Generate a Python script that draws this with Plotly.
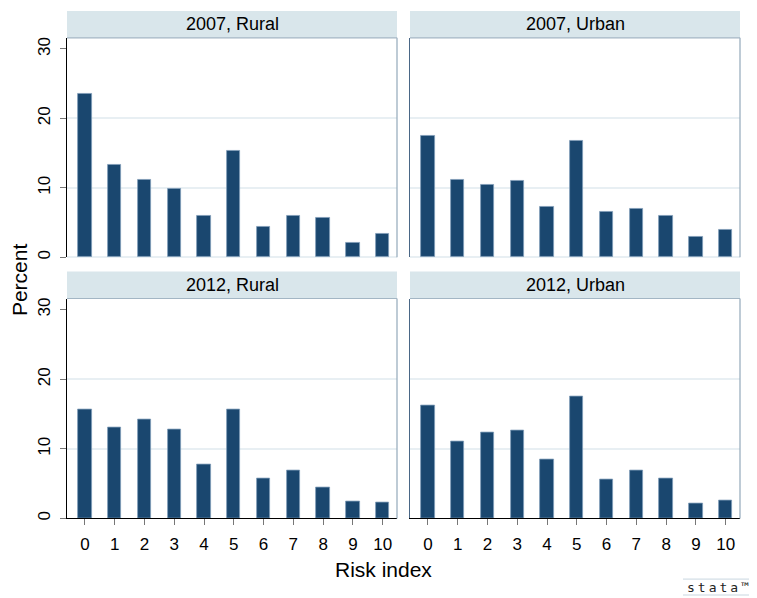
import plotly.graph_objects as go

risk_index = list(range(11))
tick_labels = [str(i) for i in risk_index]
y_ticks = [0, 10, 20, 30]

pct_2007_rural = [23.6, 13.25, 11.2, 9.9, 5.93, 15.3, 4.35, 6.03, 5.74, 2.0, 3.3]
pct_2007_urban = [17.5, 11.2, 10.45, 11.0, 7.3, 16.75, 6.6, 6.9, 5.97, 3.0, 3.9]
pct_2012_rural = [15.7, 13.0, 14.15, 12.8, 7.8, 15.6, 5.73, 6.93, 4.44, 2.39, 2.25]
pct_2012_urban = [16.2, 11.04, 12.28, 12.57, 8.4, 17.58, 5.59, 6.83, 5.69, 2.15, 2.53]

panel_titles = ["2012, Rural", "2012, Urban", "2007, Rural", "2007, Urban"]
panel_data = [pct_2012_rural, pct_2012_urban, pct_2007_rural, pct_2007_urban]

# page body has an 8px margin: figure occupies (8..757, 8..598)
OFF = 8
W, H = 757 - OFF, 598 - OFF
BAR = "#1a476f"
STRIP = "#d9e6eb"
GRID = "#e8eff3"
FONT = "Liberation Sans, Arial, sans-serif"

def px_x(p):
    return (p - OFF) / W

def px_y(p):
    return 1 - (p - OFF) / H

x_domains = [[px_x(67), px_x(397)], [px_x(410), px_x(740)]]
y_domains = [[px_y(520), px_y(299)], [px_y(257.5), px_y(37)]]

fig = go.Figure()
layout = dict(
    width=W, height=H,
    margin=dict(l=0, r=0, t=0, b=0),
    paper_bgcolor="white", plot_bgcolor="white",
    showlegend=False,
    font=dict(family=FONT, size=16, color="black"),
    bargap=0,
)

shapes = []
annotations = []
for i, (title, vals) in enumerate(zip(panel_titles, panel_data)):
    row = i // 2  # 0 bottom, 1 top
    col = i % 2
    n = i + 1
    xa = "x" if n == 1 else f"x{n}"
    ya = "y" if n == 1 else f"y{n}"
    fig.add_trace(go.Bar(
        x=risk_index, y=vals, width=0.45,
        marker=dict(color=BAR, line=dict(color="#7f9cb8", width=0.8)),
        xaxis=xa, yaxis=ya, hoverinfo="x+y",
    ))
    bottom = row == 0
    left = col == 0
    layout[f"xaxis{'' if n == 1 else n}"] = dict(
        domain=x_domains[col], anchor=ya,
        range=[-0.6, 10.48], tickmode="array",
        tickvals=risk_index, ticktext=tick_labels,
        showticklabels=bottom,
        ticks="outside" if bottom else "", ticklen=6, tickwidth=1.2, tickcolor="#777777",
        showline=bottom, linecolor="black", linewidth=1.2,
        showgrid=False, zeroline=False, fixedrange=True,
        tickfont=dict(size=17, family=FONT),
        ticklabelstandoff=4,
    )
    layout[f"yaxis{'' if n == 1 else n}"] = dict(
        domain=y_domains[row], anchor=xa,
        range=[0, 31.6], tickmode="array", tickvals=y_ticks,
        ticktext=[str(v) for v in y_ticks],
        showticklabels=left, tickangle=-90,
        ticks="outside" if left else "", ticklen=6, tickwidth=1.2, tickcolor="#777777",
        showline=True, linecolor="black" if left else "#4a6786", linewidth=1.2,
        showgrid=False,
        minor=dict(tickmode="array", tickvals=[10, 20], showgrid=True,
                   gridcolor=GRID, gridwidth=1.5, ticks=""),
        zeroline=not bottom, zerolinecolor=GRID, zerolinewidth=1.5,
        fixedrange=True,
        tickfont=dict(size=17, family=FONT),
        ticklabelstandoff=3,
    )
    dref_x = f"{xa} domain"
    dref_y = f"{ya} domain"
    strip_h = 27 / 220.5
    # right border of plot region
    shapes.append(dict(type="line", xref=dref_x, yref=dref_y, x0=1, x1=1, y0=0, y1=1,
                       line=dict(color="#93a8ba", width=1.2), layer="above"))
    # strip
    shapes.append(dict(type="rect", xref=dref_x, yref=dref_y, x0=0, x1=1,
                       y0=1, y1=1 + strip_h, fillcolor=STRIP, line=dict(width=0), layer="below"))
    shapes.append(dict(type="line", xref=dref_x, yref=dref_y, x0=0, x1=1, y0=1, y1=1,
                       line=dict(color="#a3b6c4", width=1.2)))
    annotations.append(dict(text=title, xref=dref_x, yref=dref_y, x=0.5, y=1 + strip_h / 2,
                            showarrow=False, xanchor="center", yanchor="middle",
                            font=dict(size=18, family=FONT, color="black")))

annotations.append(dict(text="Percent", xref="paper", yref="paper", x=px_x(19.5), y=px_y(280),
                        textangle=-90, showarrow=False, xanchor="center", yanchor="middle",
                        font=dict(size=21, family=FONT)))
annotations.append(dict(text="Risk index", xref="paper", yref="paper", x=px_x(383), y=px_y(571),
                        showarrow=False, xanchor="center", yanchor="middle",
                        font=dict(size=21, family=FONT)))
annotations.append(dict(text='<span style="letter-spacing:3px">stata</span>™',
                        xref="paper", yref="paper", x=px_x(718), y=px_y(589),
                        showarrow=False, xanchor="center", yanchor="middle",
                        font=dict(size=13, family="DejaVu Sans Mono, monospace", color="#222222")))
shapes.append(dict(type="line", xref="paper", yref="paper", x0=px_x(683), x1=1,
                   y0=px_y(581), y1=px_y(581), line=dict(color="#c9d6e0", width=1)))
shapes.append(dict(type="line", xref="paper", yref="paper", x0=px_x(683), x1=1,
                   y0=px_y(597), y1=px_y(597), line=dict(color="#c9d6e0", width=1)))

layout["shapes"] = shapes
layout["annotations"] = annotations
fig.update_layout(**layout)
fig.write_html("out.html")
